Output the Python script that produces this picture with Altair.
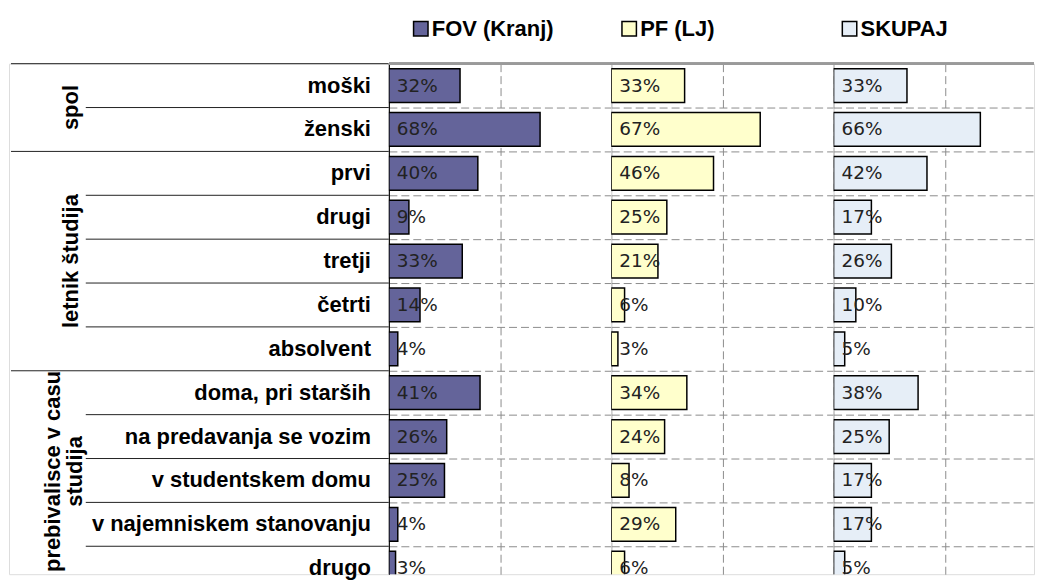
import altair as alt
import pandas as pd

groups = ["spol", "letnik študija", "prebivalisce v casu\nstudija"]
group_sizes = [2, 5, 5]
rows = ["moški", "ženski", "prvi", "drugi", "tretji", "četrti", "absolvent",
        "doma, pri starših", "na predavanja se vozim", "v studentskem domu",
        "v najemniskem stanovanju", "drugo"]
series = ["FOV (Kranj)", "PF (LJ)", "SKUPAJ"]
fov = [32, 68, 40, 9, 33, 14, 4, 41, 26, 25, 4, 3]
pf = [33, 67, 46, 25, 21, 6, 3, 34, 24, 8, 29, 6]
skupaj = [33, 66, 42, 17, 26, 10, 5, 38, 25, 17, 17, 5]
colors = ["#64649a", "#ffffcc", "#e6eef7"]

n = len(rows)
step = 44
plot_h = 512                      # visible part of the 12 rows (bottom is cut, as in the original)
ys = alt.Scale(domain=[0, plot_h / step], reverse=True, nice=False, zero=False)

# ---------- left label panel ----------
row_df = pd.DataFrame({"row": rows, "idx": list(range(n))})
starts = [sum(group_sizes[:i]) for i in range(len(groups))]
grp_df = pd.DataFrame({"group": groups, "start": starts, "size": group_sizes,
                       "lines": [g.count("\n") + 1 for g in groups]})
inner_b = [s + k for s, z in zip(starts, group_sizes) for k in range(1, z)]
inner_df = pd.DataFrame({"b": inner_b})
outer_df = pd.DataFrame({"b": starts})

lab_font = "Liberation Sans"
lab_size = 22

row_text = alt.Chart(row_df).transform_calculate(mid="datum.idx + 0.5").mark_text(
    align="right", baseline="middle", font=lab_font, fontWeight="bold",
    fontSize=lab_size, color="black"
).encode(x=alt.value(363), y=alt.Y("mid:Q", scale=ys, axis=None), text="row:N")

grp_base = alt.Chart(grp_df).transform_calculate(mid="datum.start + datum.size / 2")
grp_text1 = grp_base.transform_filter("datum.lines == 1").mark_text(
    angle=270, align="center", baseline="middle", font=lab_font, fontWeight="bold",
    fontSize=lab_size, color="black"
).encode(x=alt.value(62), y=alt.Y("mid:Q", scale=ys, axis=None), text="group:N")
grp_text2 = grp_base.transform_filter("datum.lines == 2").mark_text(
    angle=270, align="center", baseline="middle", font=lab_font, fontWeight="bold",
    fontSize=lab_size, color="black", lineBreak="\n", lineHeight=22
).encode(x=alt.value(44), y=alt.Y("mid:Q", scale=ys, axis=None),
         yOffset=alt.value(-9), text="group:N")

inner_rules = alt.Chart(inner_df).mark_rule(color="#222", strokeWidth=1).encode(
    x=alt.value(77), x2=alt.value(381), y=alt.Y("b:Q", scale=ys, axis=None))
outer_rules = alt.Chart(outer_df).mark_rule(color="#222", strokeWidth=1).encode(
    x=alt.value(2), x2=alt.value(381), y=alt.Y("b:Q", scale=ys, axis=None))

left = alt.layer(outer_rules, inner_rules, grp_text1, grp_text2, row_text).properties(
    width=381, height=plot_h)

# ---------- bar panels ----------
def panel(name, values, color, first, width, xmax, legend_x, grid_vals):
    df = pd.DataFrame({"row": rows, "idx": list(range(n)), "value": values,
                       "series": name})
    xs = alt.Scale(domain=[0, xmax], nice=False, zero=True)
    xaxis = alt.Axis(values=grid_vals, grid=True, labels=False, ticks=False,
                     domain=False, title=None, gridDash=[8, 4], gridColor="#8c8c8c",
                     gridWidth=1, orient="top")
    yaxis = alt.Axis(values=list(range(1, n)), grid=True, labels=False, ticks=False,
                     domain=first, domainColor="#111", domainWidth=1.2, title=None,
                     gridDash=[8, 4], gridColor="#8c8c8c", gridWidth=1)
    base = alt.Chart(df).transform_calculate(
        y0="datum.idx + 0.115", y1="datum.idx + 0.885", mid="datum.idx + 0.5",
        label="format(datum.value, 'd') + '%'")
    legend = alt.Legend(
        orient="none", legendX=legend_x, legendY=-46, direction="horizontal",
        symbolType="square", symbolSize=210, symbolStrokeColor="black",
        symbolStrokeWidth=1.5, labelFont=lab_font, labelFontWeight="bold",
        labelFontSize=lab_size, labelColor="black", title=None, labelOffset=0,
        padding=0)
    bars = base.mark_bar(stroke="black", strokeWidth=1.5, clip=True).encode(
        x=alt.X("value:Q", scale=xs, axis=xaxis),
        x2=alt.datum(0),
        y=alt.Y("y0:Q", scale=ys, axis=yaxis),
        y2="y1:Q",
        color=alt.Color("series:N", scale=alt.Scale(domain=[name], range=[color]),
                        legend=legend),
    )
    txt = base.mark_text(align="left", baseline="middle", dx=8, font="DejaVu Sans",
                         fontSize=18.5, color="#222").encode(
        x=alt.datum(0), y=alt.Y("mid:Q", scale=ys), text="label:N")
    top = alt.Chart(df).mark_rule(color="#9a9a9a", strokeWidth=2).encode(
        y=alt.datum(0))
    return alt.layer(bars, txt, top).properties(width=width, height=plot_h)

p1 = panel(series[0], fov, colors[0], True, 223, 100, 21, [50, 100])
p2 = panel(series[1], pf, colors[1], False, 223, 100, 7, [50, 100])
p3 = panel(series[2], skupaj, colors[2], False, 201, 201 / 223 * 100, 5, [50])

chart = alt.hconcat(left, p1, p2, p3, spacing=0, bounds="flush").resolve_scale(
    color="independent"
).properties(
    padding={"top": 8, "left": 0, "right": 0, "bottom": 0}
).configure_view(stroke=None).configure(background="white")

chart.save("out.html", embed_options={"renderer": "svg", "actions": False})
